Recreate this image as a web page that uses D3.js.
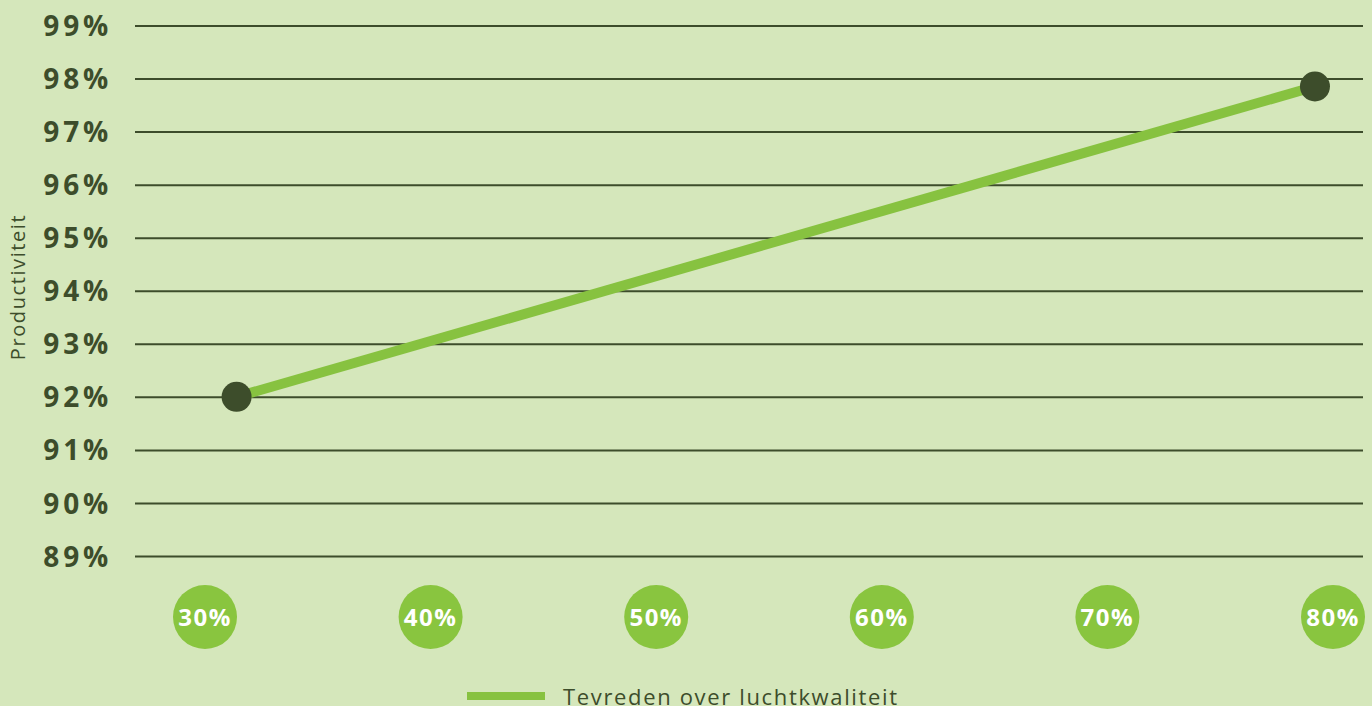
<!DOCTYPE html>
<html>
<head>
<meta charset="utf-8">
<style>
  body { margin:0; background:#d5e7bb; }
  svg { display:block; }
  text { font-family:"Open Sans", sans-serif; }
</style>
</head>
<body>
<svg width="1372" height="706"></svg>
<script src="https://cdn.jsdelivr.net/npm/d3@7/dist/d3.min.js"></script>
<script>
// ---- data ----
var yTicks = [89, 90, 91, 92, 93, 94, 95, 96, 97, 98, 99];
var xCategories = [30, 40, 50, 60, 70, 80];
var seriesName = "Tevreden over luchtkwaliteit";
var seriesX = [31.4, 79.2];
var seriesY = [92.0, 97.85];

var dark = "#3d4d2b", green = "#87c240";

var svg = d3.select("svg");
svg.append("rect").attr("width", 1372).attr("height", 706).attr("fill", "#d5e7bb");

var x = d3.scaleLinear().domain([30, 80]).range([205, 1333]);
var y = d3.scaleLinear().domain([89, 99]).range([556, 25.5]);

// gridlines + y labels
var yAxis = d3.axisLeft(y).tickValues(yTicks).tickSize(-(1363 - 135)).tickFormat(function(d){ return d + "%"; });
var gy = svg.append("g").attr("transform", "translate(135,0)").call(yAxis);
gy.select(".domain").remove();
gy.selectAll(".tick line").attr("stroke", dark).attr("stroke-width", 2);
gy.selectAll(".tick text")
  .attr("x", -23).attr("dy", "0.36em")
  .attr("fill", dark).style("font-size", "28px").style("font-weight", 700)
  .style("letter-spacing", "3.8px").style("font-family", "'Open Sans', sans-serif");

// y title
svg.append("text")
  .attr("transform", "translate(25,287) rotate(-90)")
  .attr("text-anchor", "middle")
  .attr("fill", dark).style("font-size", "20px").style("letter-spacing", "1.6px")
  .text("Productiviteit");

// x category bubbles
var cat = svg.selectAll("g.cat").data(xCategories).enter().append("g")
  .attr("class", "cat")
  .attr("transform", function(d){ return "translate(" + x(d) + ",617)"; });
cat.append("circle").attr("r", 32).attr("fill", "#89c53f");
cat.append("text").attr("text-anchor", "middle").attr("dy", "0.36em")
  .attr("fill", "#fff").style("font-size", "24px").style("font-weight", 700)
  .style("letter-spacing", "1.5px")
  .text(function(d){ return d + "%"; });

// series line
var pts = seriesX.map(function(v, i){ return [v, seriesY[i]]; });
svg.append("path").datum(pts)
  .attr("d", d3.line().x(function(d){ return x(d[0]); }).y(function(d){ return y(d[1]); }))
  .attr("fill", "none").attr("stroke", green).attr("stroke-width", 10);
svg.selectAll("circle.pt").data(pts).enter().append("circle")
  .attr("class", "pt")
  .attr("cx", function(d){ return x(d[0]); })
  .attr("cy", function(d){ return y(d[1]); })
  .attr("r", 15).attr("fill", dark);

// legend
svg.append("line").attr("x1", 467).attr("x2", 545).attr("y1", 696).attr("y2", 696)
  .attr("stroke", green).attr("stroke-width", 8);
svg.append("text").attr("x", 563).attr("y", 705)
  .attr("fill", dark).style("font-size", "22px").style("letter-spacing", "1.65px")
  .text(seriesName);
</script>
</body>
</html>
